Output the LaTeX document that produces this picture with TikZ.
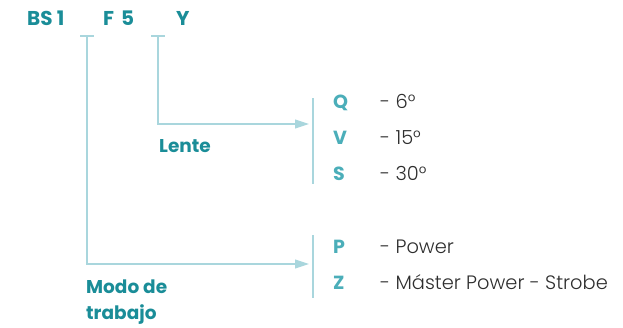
\documentclass[tikz,border=0pt]{standalone}
\usepackage{fontspec}
\setmainfont{Poppins}
\newfontfamily\lightfont{Poppins}[UprightFont=* Light]
\usetikzlibrary{arrows.meta}
\definecolor{dteal}{HTML}{1A8D98}
\definecolor{lteal}{HTML}{4BAEB9}
\definecolor{lline}{HTML}{A9D6DD}
\definecolor{gtext}{HTML}{2E2E2E}
\tikzset{
  hdr/.style={font=\fontsize{20}{20}\selectfont\bfseries, text=dteal, inner sep=0pt, anchor=base west},
  key/.style={font=\fontsize{19}{19}\selectfont\bfseries, text=lteal, inner sep=0pt, anchor=base west},
  desc/.style={font=\fontsize{19.4}{19.4}\lightfont\selectfont, text=gtext, inner sep=0pt, anchor=base west},
  lbl/.style={font=\fontsize{18.5}{26}\selectfont\bfseries, text=dteal, inner sep=0pt, anchor=base west, align=left},
  conn/.style={draw=lline, line width=1.1pt},
  arr/.style={conn, -{Triangle[length=14pt,width=9pt]}},
}
\begin{document}
\begin{tikzpicture}[x=1pt,y=-1pt]
\useasboundingbox (0,0) rectangle (623,327);
\node[hdr] (bs) at (27,25) {BS 1};
\node[hdr] (f) at (103,25) {F\hspace{7pt}5};
\node[hdr] (y) at (176,25) {Y};
% T markers
\draw[conn] (80,36) -- (94,36);
\draw[conn] (151,36) -- (165,36);
\coordinate (t1) at (87,36);
\coordinate (t2) at (158,36);
\coordinate (c1) at (158,124);
\coordinate (c2) at (87,264);
\coordinate (a1) at (309,124);
\coordinate (a2) at (309,264);
\draw[arr] (t2) -- (c1) -- (a1);
\draw[arr] (t1) -- (c2) -- (a2);
% bars
\draw[conn] (313,98) -- (313,184);
\draw[conn] (313,235) -- (313,298);
\node[lbl] (lente) at (159,152) {Lente};
\node[lbl] (modo) at (86,319) {Modo de\\trabajo};
\node[key] (q) at (333,108) {Q};
\node[key] (v) at (333,144) {V};
\node[key] (s) at (333,180) {S};
\node[desc] (dq) at (380,108) {- 6\textdegree};
\node[desc] (dv) at (380,144) {- 15\textdegree};
\node[desc] (ds) at (380,180) {- 30\textdegree};
\node[key] (p) at (333,253) {P};
\node[key] (z) at (333,289) {Z};
\node[desc] (dp) at (380,253) {- Power};
\node[desc] (dz) at (380,289) {- Máster Power - Strobe};
\end{tikzpicture}
\end{document}
